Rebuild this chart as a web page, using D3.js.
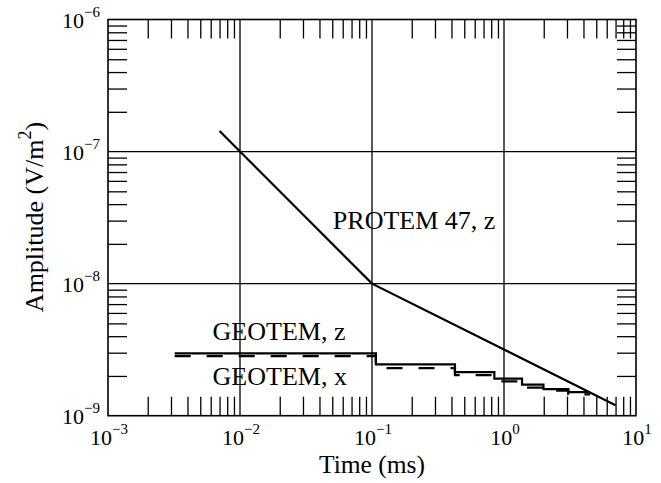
<!DOCTYPE html>
<html>
<head>
<meta charset="utf-8">
<script src="https://cdn.jsdelivr.net/npm/d3@7"></script>
<style>
  body { margin: 0; background: #fff; }
  svg { display: block; font-family: "Liberation Serif", "Times New Roman", serif; }
</style>
</head>
<body>
<div id="chart"></div>
<script>
// data (time in ms, amplitude in V/m^2)
const protemTime = [0.007, 0.1, 7.0];
const protemAmp  = [1.43e-7, 1.0e-8, 1.2e-9];

// GEOTEM step edges (window boundaries) and window levels
const geotemEdges = [0.0032, 0.107, 0.425, 0.845, 1.37, 1.99, 3.07, 4.5];
const geotemZ = [2.96e-9, 2.45e-9, 2.14e-9, 1.91e-9, 1.72e-9, 1.59e-9, 1.51e-9];
const geotemX = [2.83e-9, 2.29e-9, 2.03e-9, 1.82e-9, 1.63e-9, 1.55e-9, 1.45e-9];

const xDomain = [1e-3, 1e1];
const yDomain = [1e-9, 1e-6];

const labels = [
  { text: "PROTEM 47, z", t: 0.0505, a: 2.58e-8 },
  { text: "GEOTEM, z",    t: 0.0062, a: 3.73e-9 },
  { text: "GEOTEM, x",    t: 0.0062, a: 1.70e-9 }
];

const W = 661, H = 483;
const margin = { top: 19.5, right: 25, bottom: 67.3, left: 108 };
const width = W - margin.left - margin.right;
const height = H - margin.top - margin.bottom;

const svg = d3.select("#chart").append("svg")
  .attr("width", W)
  .attr("height", H);

const g = svg.append("g")
  .attr("transform", `translate(${margin.left},${margin.top})`);

const x = d3.scaleLog().domain(xDomain).range([0, width]);
const y = d3.scaleLog().domain(yDomain).range([height, 0]);

const isMajor = v => Math.abs(Math.log10(v) - Math.round(Math.log10(v))) < 1e-9;
const xMinor = x.ticks().filter(v => !isMajor(v));
const yMinor = y.ticks().filter(v => !isMajor(v));
const xMajor = x.ticks().filter(isMajor);
const yMajor = y.ticks().filter(isMajor);

// grid lines at the decades
g.append("g").selectAll("line").data(xMajor.slice(1, -1)).join("line")
  .attr("x1", d => x(d)).attr("x2", d => x(d))
  .attr("y1", 0).attr("y2", height)
  .attr("stroke", "#000").attr("stroke-width", 1.3);
g.append("g").selectAll("line").data(yMajor.slice(1, -1)).join("line")
  .attr("y1", d => y(d)).attr("y2", d => y(d))
  .attr("x1", 0).attr("x2", width)
  .attr("stroke", "#000").attr("stroke-width", 1.3);

// minor ticks on all four sides, pointing inward
const tickLen = 19;
const styleAxis = sel => {
  sel.select(".domain").remove();
  sel.selectAll(".tick line").attr("stroke", "#000").attr("stroke-width", 1.3);
};
g.append("g").attr("transform", `translate(0,${height})`)
  .call(d3.axisBottom(x).tickValues(xMinor).tickSize(-tickLen).tickFormat(""))
  .call(styleAxis);
g.append("g")
  .call(d3.axisTop(x).tickValues(xMinor).tickSize(-tickLen).tickFormat(""))
  .call(styleAxis);
g.append("g")
  .call(d3.axisLeft(y).tickValues(yMinor).tickSize(-tickLen).tickFormat(""))
  .call(styleAxis);
g.append("g").attr("transform", `translate(${width},0)`)
  .call(d3.axisRight(y).tickValues(yMinor).tickSize(-tickLen).tickFormat(""))
  .call(styleAxis);

// frame
g.append("rect")
  .attr("width", width).attr("height", height)
  .attr("fill", "none").attr("stroke", "#000").attr("stroke-width", 1.6);

// power-of-ten labels
const powLabel = (sel, v) => {
  const e = Math.round(Math.log10(v));
  sel.append("tspan").text("10");
  sel.append("tspan").attr("dy", -11).attr("font-size", 15)
    .text(e < 0 ? "\u2212" + Math.abs(e) : String(e));
};
g.append("g").selectAll("text").data(xMajor).join("text")
  .attr("x", d => x(d) + 1)
  .attr("y", height + 29.5)
  .attr("text-anchor", "middle")
  .attr("font-size", 22)
  .each(function(d) { powLabel(d3.select(this), d); });
g.append("g").selectAll("text").data(yMajor).join("text")
  .attr("x", -8)
  .attr("y", d => y(d) + 8)
  .attr("text-anchor", "end")
  .attr("font-size", 22)
  .each(function(d) { powLabel(d3.select(this), d); });

// axis titles
g.append("text")
  .attr("x", width / 2)
  .attr("y", height + 57)
  .attr("text-anchor", "middle")
  .attr("font-size", 25.5)
  .text("Time (ms)");

const yTitle = svg.append("text")
  .attr("transform", `translate(43,${217}) rotate(-90)`)
  .attr("text-anchor", "middle")
  .attr("font-size", 26);
yTitle.append("tspan").text("Amplitude (V/m");
yTitle.append("tspan").attr("dy", -12).attr("font-size", 18).text("2");
yTitle.append("tspan").attr("dy", 12).text(")");

// PROTEM decay curve
const line = d3.line().x(d => x(d[0])).y(d => y(d[1]));
g.append("path")
  .datum(d3.zip(protemTime, protemAmp))
  .attr("d", line)
  .attr("fill", "none").attr("stroke", "#000").attr("stroke-width", 2.2);

// GEOTEM step curves
const steps = levels => {
  const pts = [];
  levels.forEach((v, i) => {
    pts.push([geotemEdges[i], v]);
    pts.push([geotemEdges[i + 1], v]);
  });
  return pts;
};
g.append("path")
  .datum(steps(geotemX))
  .attr("d", line)
  .attr("fill", "none").attr("stroke", "#000").attr("stroke-width", 2.2)
  .attr("stroke-dasharray", "16,16");
g.append("path")
  .datum(steps(geotemZ))
  .attr("d", line)
  .attr("fill", "none").attr("stroke", "#000").attr("stroke-width", 2.2);

// curve labels
g.append("g").selectAll("text").data(labels).join("text")
  .attr("x", d => x(d.t))
  .attr("y", d => y(d.a))
  .attr("font-size", 26)
  .text(d => d.text);
</script>
</body>
</html>
